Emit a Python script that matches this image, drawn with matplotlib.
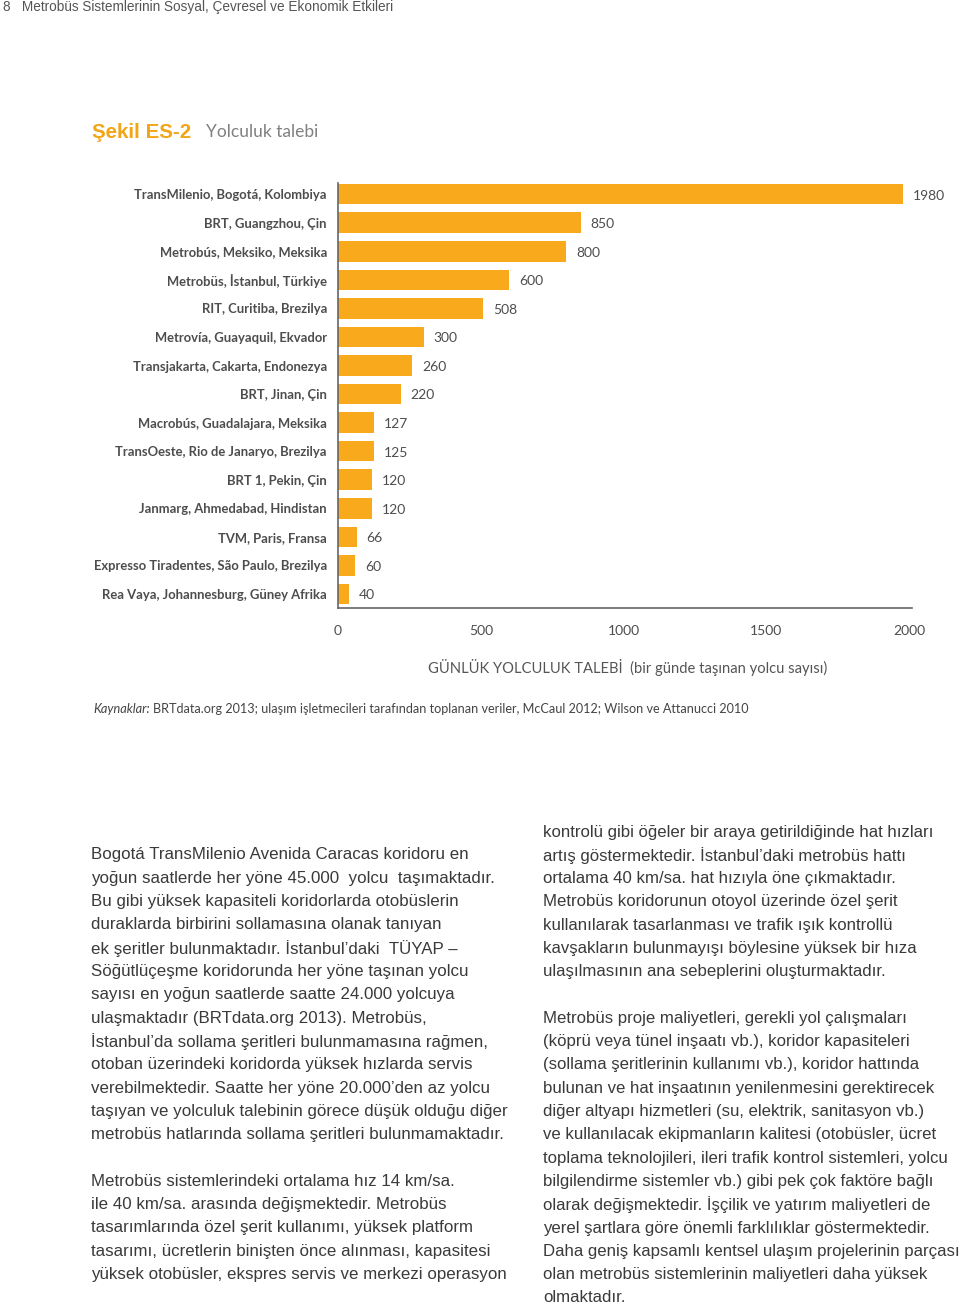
import matplotlib
matplotlib.use('Agg')
import matplotlib.pyplot as plt
import numpy as np

# Veriler: gunluk yolculuk talebi (bin yolcu / gun)
sistemler = ['TransMilenio, Bogotá, Kolombiya', 'BRT, Guangzhou, Çin',
             'Metrobús, Meksiko, Meksika', 'Metrobüs, İstanbul, Türkiye',
             'RIT, Curitiba, Brezilya', 'Metrovía, Guayaquil, Ekvador',
             'Transjakarta, Cakarta, Endonezya', 'BRT, Jinan, Çin',
             'Macrobús, Guadalajara, Meksika', 'TransOeste, Rio de Janaryo, Brezilya',
             'BRT 1, Pekin, Çin', 'Janmarg, Ahmedabad, Hindistan',
             'TVM, Paris, Fransa', 'Expresso Tiradentes, São Paulo, Brezilya',
             'Rea Vaya, Johannesburg, Güney Afrika']
talep = [1980, 850, 800, 600, 508, 300, 260, 220, 127, 125, 120, 120, 66, 60, 40]
x_ticks = [0, 500, 1000, 1500, 2000]

turuncu = '#F8AA1C'
koyu = '#4d4d4d'
govde = '#3a3a3a'

W, H = 960, 1304
fig = plt.figure(figsize=(W / 100, H / 100), dpi=100)

def px(x, y):
    # piksel -> figur koordinati
    return x / W, 1 - y / H

def yazi(x, y, s, **kw):
    fx, fy = px(x, y)
    fig.text(fx, fy, s, **kw)

# Ust bilgi
yazi(3, 7, '8   Metrobüs Sistemlerinin Sosyal, Çevresel ve Ekonomik Etkileri',
     fontsize=9.8, color='#555555', family='Liberation Sans', va='center')

# Baslik
yazi(92, 132, 'Şekil ES-2', fontsize=14.8, color='#F2A516', weight='bold',
     family='Liberation Sans', va='center')
yazi(206, 132, 'Yolculuk talebi', fontsize=12.5, color='#808080',
     family='Lato', va='center')

# Grafik
l, r, t, b = 338, 912, 183, 608
ax = fig.add_axes([l / W, 1 - b / H, (r - l) / W, (b - t) / H])
y = np.arange(len(talep))
ax.barh(y, talep, height=0.72, color=turuncu)
for i, v in enumerate(talep):
    ax.annotate(str(v), (v, i), xytext=(7, -1), textcoords='offset points',
                va='center', ha='left', fontsize=10, color=koyu, family='Lato')
ax.set_ylim(len(talep) - 0.51, -0.39)
ax.set_xlim(0, 2010)
ax.set_yticks(y)
ax.set_yticklabels(sistemler, fontsize=9.4, color=koyu, family='Lato', weight='bold')
ax.set_xticks(x_ticks)
ax.set_xticklabels([str(t) for t in x_ticks], fontsize=10, color=koyu, family='Lato')
ax.tick_params(axis='y', length=0, pad=8)
ax.tick_params(axis='x', length=0, pad=12)
for s in ['top', 'right']:
    ax.spines[s].set_visible(False)
for s in ['left', 'bottom']:
    ax.spines[s].set_color('#666666')
    ax.spines[s].set_linewidth(1.2)

yazi(628, 667, 'GÜNLÜK YOLCULUK TALEBİ  (bir günde taşınan yolcu sayısı)',
     fontsize=10.6, color='#555555', family='Lato', ha='center', va='center')

# Kaynak
yazi(93, 709, 'Kaynaklar:', fontsize=9.2, color='#444444', family='Lato',
     style='italic', va='center')
yazi(153, 709, 'BRTdata.org 2013; ulaşım işletmecileri tarafından toplanan veriler, '
     'McCaul 2012; Wilson ve Attanucci 2010',
     fontsize=9.05, color='#444444', family='Lato', va='center')

# Metin sutunlari
sol = ['Bogotá TransMilenio Avenida Caracas koridoru en',
       'yoğun saatlerde her yöne 45.000  yolcu  taşımaktadır.',
       'Bu gibi yüksek kapasiteli koridorlarda otobüslerin',
       'duraklarda birbirini sollamasına olanak tanıyan',
       'ek şeritler bulunmaktadır. İstanbul’daki  TÜYAP –',
       'Söğütlüçeşme koridorunda her yöne taşınan yolcu',
       'sayısı en yoğun saatlerde saatte 24.000 yolcuya',
       'ulaşmaktadır (BRTdata.org 2013). Metrobüs,',
       'İstanbul’da sollama şeritleri bulunmamasına rağmen,',
       'otoban üzerindeki koridorda yüksek hızlarda servis',
       'verebilmektedir. Saatte her yöne 20.000’den az yolcu',
       'taşıyan ve yolculuk talebinin görece düşük olduğu diğer',
       'metrobüs hatlarında sollama şeritleri bulunmamaktadır.',
       '',
       'Metrobüs sistemlerindeki ortalama hız 14 km/sa.',
       'ile 40 km/sa. arasında değişmektedir. Metrobüs',
       'tasarımlarında özel şerit kullanımı, yüksek platform',
       'tasarımı, ücretlerin binişten önce alınması, kapasitesi',
       'yüksek otobüsler, ekspres servis ve merkezi operasyon']
sag = ['kontrolü gibi öğeler bir araya getirildiğinde hat hızları',
       'artış göstermektedir. İstanbul’daki metrobüs hattı',
       'ortalama 40 km/sa. hat hızıyla öne çıkmaktadır.',
       'Metrobüs koridorunun otoyol üzerinde özel şerit',
       'kullanılarak tasarlanması ve trafik ışık kontrollü',
       'kavşakların bulunmayışı böylesine yüksek bir hıza',
       'ulaşılmasının ana sebeplerini oluşturmaktadır.',
       '',
       'Metrobüs proje maliyetleri, gerekli yol çalışmaları',
       '(köprü veya tünel inşaatı vb.), koridor kapasiteleri',
       '(sollama şeritlerinin kullanımı vb.), koridor hattında',
       'bulunan ve hat inşaatının yenilenmesini gerektirecek',
       'diğer altyapı hizmetleri (su, elektrik, sanitasyon vb.)',
       've kullanılacak ekipmanların kalitesi (otobüsler, ücret',
       'toplama teknolojileri, ileri trafik kontrol sistemleri, yolcu',
       'bilgilendirme sistemler vb.) gibi pek çok faktöre bağlı',
       'olarak değişmektedir. İşçilik ve yatırım maliyetleri de',
       'yerel şartlara göre önemli farklılıklar göstermektedir.',
       'Daha geniş kapsamlı kentsel ulaşım projelerinin parçası',
       'olan metrobüs sistemlerinin maliyetleri daha yüksek',
       'olmaktadır.']
aralik = 23.3
for i, satir in enumerate(sol):
    yazi(91, 855 + i * aralik, satir, fontsize=12.2, color=govde,
         family='Liberation Sans', va='center')
for i, satir in enumerate(sag):
    yazi(543, 832 + i * aralik, satir, fontsize=12.05, color=govde,
         family='Liberation Sans', va='center')

fig.savefig('out.png', dpi=100, facecolor='white')
